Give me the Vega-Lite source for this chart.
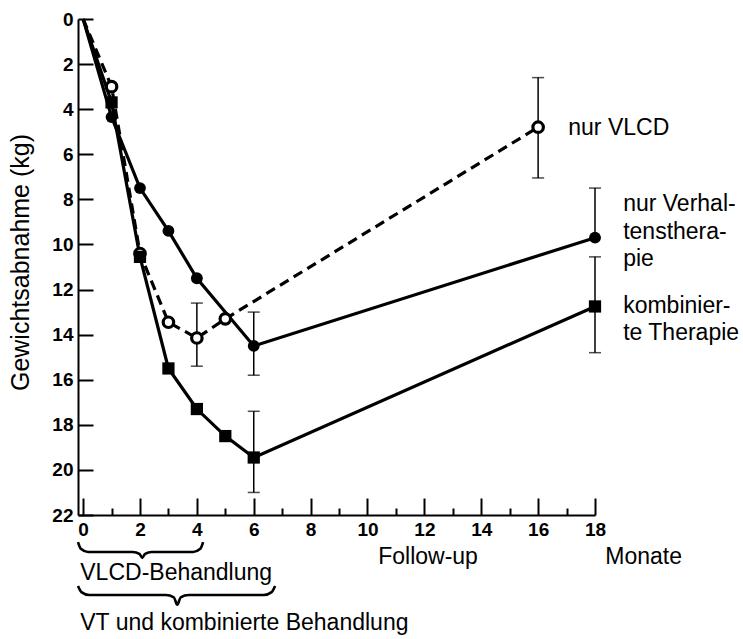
{
  "$schema": "https://vega.github.io/schema/vega-lite/v6.json",
  "width": 517,
  "height": 496,
  "autosize": {"type": "none"},
  "padding": {"left": 78, "top": 19, "right": 148, "bottom": 124},
  "background": "white",
  "config": {
    "view": {"stroke": null},
    "axis": {
      "grid": false,
      "domainColor": "black",
      "domainWidth": 2,
      "tickColor": "black",
      "tickWidth": 2,
      "labelColor": "black",
      "labelFont": "Liberation Sans",
      "labelFontWeight": "bold",
      "labelFontSize": 19,
      "titleColor": "black",
      "titleFont": "Liberation Sans",
      "titleFontWeight": "normal",
      "titleFontSize": 25
    },
    "text": {"font": "Liberation Sans", "fontSize": 23, "color": "black"}
  },
  "datasets": {
    "pts": [
      {"s": "VLCD", "m": 0, "kg": 0},
      {"s": "VLCD", "m": 1, "kg": 3.0},
      {"s": "VLCD", "m": 2, "kg": 10.4},
      {"s": "VLCD", "m": 3, "kg": 13.45},
      {"s": "VLCD", "m": 4, "kg": 14.15},
      {"s": "VLCD", "m": 5, "kg": 13.3},
      {"s": "VLCD", "m": 16, "kg": 4.8},
      {"s": "VT", "m": 0, "kg": 0},
      {"s": "VT", "m": 1, "kg": 4.35},
      {"s": "VT", "m": 2, "kg": 7.5},
      {"s": "VT", "m": 3, "kg": 9.4},
      {"s": "VT", "m": 4, "kg": 11.5},
      {"s": "VT", "m": 6, "kg": 14.5},
      {"s": "VT", "m": 18, "kg": 9.7},
      {"s": "Komb", "m": 0, "kg": 0},
      {"s": "Komb", "m": 1, "kg": 3.7},
      {"s": "Komb", "m": 2, "kg": 10.55},
      {"s": "Komb", "m": 3, "kg": 15.5},
      {"s": "Komb", "m": 4, "kg": 17.3},
      {"s": "Komb", "m": 5, "kg": 18.5},
      {"s": "Komb", "m": 6, "kg": 19.45},
      {"s": "Komb", "m": 18, "kg": 12.75}
    ],
    "err": [
      {"s": "VLCD", "m": 4, "lo": 12.6, "hi": 15.4},
      {"s": "VLCD", "m": 16, "lo": 2.6, "hi": 7.05},
      {"s": "VT", "m": 6, "lo": 13.0, "hi": 15.8},
      {"s": "VT", "m": 18, "lo": 7.5, "hi": 9.7},
      {"s": "Komb", "m": 6, "lo": 17.4, "hi": 21.0},
      {"s": "Komb", "m": 18, "lo": 10.55, "hi": 14.8}
    ],
    "labels": [
      {"t": "nur VLCD", "m": 17.06, "kg": 4.83, "a": "left"},
      {"t": "nur Verhal-", "m": 18.99, "kg": 8.21, "a": "left"},
      {"t": "tensthera-", "m": 18.99, "kg": 9.45, "a": "left"},
      {"t": "pie", "m": 18.99, "kg": 10.65, "a": "left"},
      {"t": "kombinier-", "m": 18.99, "kg": 12.73, "a": "left"},
      {"t": "te Therapie", "m": 18.99, "kg": 13.93, "a": "left"},
      {"t": "Follow-up", "m": 12.13, "kg": 23.86, "a": "center"},
      {"t": "Monate", "m": 18.36, "kg": 23.86, "a": "left"},
      {"t": "VLCD-Behandlung", "m": -0.1, "kg": 24.57, "a": "left"},
      {"t": "VT und kombinierte Behandlung", "m": -0.1, "kg": 26.79, "a": "left"}
    ],
    "braces": [
      {"b": 1, "m": -0.18, "kg": 23.2},
      {"b": 1, "m": -0.08, "kg": 23.5},
      {"b": 1, "m": 0.17, "kg": 23.64},
      {"b": 1, "m": 1.75, "kg": 23.64},
      {"b": 1, "m": 1.98, "kg": 23.72},
      {"b": 1, "m": 2.08, "kg": 23.9},
      {"b": 1, "m": 2.18, "kg": 23.72},
      {"b": 1, "m": 2.41, "kg": 23.64},
      {"b": 1, "m": 3.87, "kg": 23.64},
      {"b": 1, "m": 4.12, "kg": 23.5},
      {"b": 1, "m": 4.22, "kg": 23.2},
      {"b": 2, "m": -0.18, "kg": 25.15},
      {"b": 2, "m": -0.06, "kg": 25.42},
      {"b": 2, "m": 0.22, "kg": 25.55},
      {"b": 2, "m": 2.91, "kg": 25.55},
      {"b": 2, "m": 3.19, "kg": 25.65},
      {"b": 2, "m": 3.31, "kg": 25.98},
      {"b": 2, "m": 3.43, "kg": 25.65},
      {"b": 2, "m": 3.71, "kg": 25.55},
      {"b": 2, "m": 6.35, "kg": 25.55},
      {"b": 2, "m": 6.63, "kg": 25.42},
      {"b": 2, "m": 6.75, "kg": 25.15}
    ]
  },
  "encoding": {
    "x": {
      "field": "m",
      "type": "quantitative",
      "scale": {"domain": [-0.18, 18], "nice": false, "zero": false},
      "axis": {
        "title": null,
        "values": [0, 1, 2, 3, 4, 5, 6, 7, 8, 9, 10, 11, 12, 13, 14, 15, 16, 17, 18],
        "labelExpr": "datum.value % 2 == 0 ? datum.label : ''",
        "tickSize": {"condition": {"test": "datum.value % 2 == 1", "value": -7}, "value": -17},
        "labelPadding": 22,
        "labelFlush": false,
        "labelOverlap": false
      }
    },
    "y": {
      "field": "kg",
      "type": "quantitative",
      "scale": {"domain": [0, 22], "reverse": true, "nice": false},
      "axis": {
        "title": "Gewichtsabnahme (kg)",
        "values": [0, 2, 4, 6, 8, 10, 12, 14, 16, 18, 20, 22],
        "tickSize": -15,
        "labelPadding": 20,
        "labelFlush": false,
        "labelOverlap": false,
        "titleX": -58,
        "titleY": 243,
        "titleAngle": -90,
        "titleAlign": "center",
        "titleBaseline": "middle"
      }
    }
  },
  "layer": [
    {
      "data": {"name": "err"},
      "mark": {"type": "errorbar", "ticks": {"size": 12, "thickness": 1.5, "color": "black"}, "thickness": 1.5, "color": "black"},
      "encoding": {
        "x": {"field": "m", "type": "quantitative"},
        "y": {"field": "lo", "type": "quantitative"},
        "y2": {"field": "hi"}
      }
    },
    {
      "data": {"name": "pts"},
      "transform": [{"filter": "datum.s != 'VLCD'"}],
      "mark": {"type": "line", "color": "black", "strokeWidth": 3.2},
      "encoding": {"detail": {"field": "s"}}
    },
    {
      "data": {"name": "pts"},
      "transform": [{"filter": "datum.s == 'VLCD'"}],
      "mark": {"type": "line", "color": "black", "strokeWidth": 3.2, "strokeDash": [10, 6]},
      "encoding": {}
    },
    {
      "data": {"name": "pts"},
      "transform": [{"filter": "datum.s == 'VLCD' && datum.m > 0"}],
      "mark": {"type": "point", "shape": "circle", "size": 110, "fill": "white", "stroke": "black", "strokeWidth": 3.2, "opacity": 1, "filled": false},
      "encoding": {}
    },
    {
      "data": {"name": "pts"},
      "transform": [{"filter": "datum.s == 'VT' && datum.m > 0"}],
      "mark": {"type": "point", "shape": "circle", "size": 140, "fill": "black", "stroke": null, "opacity": 1, "filled": true},
      "encoding": {}
    },
    {
      "data": {"name": "pts"},
      "transform": [{"filter": "datum.s == 'Komb' && datum.m > 0"}],
      "mark": {"type": "point", "shape": "square", "size": 150, "fill": "black", "stroke": null, "opacity": 1, "filled": true},
      "encoding": {}
    },
    {
      "data": {"name": "braces"},
      "mark": {"type": "line", "color": "black", "strokeWidth": 2.6, "interpolate": "monotone", "clip": false},
      "encoding": {"detail": {"field": "b"}}
    },
    {
      "data": {"name": "labels"},
      "transform": [{"filter": "datum.a == 'left'"}],
      "mark": {"type": "text", "align": "left", "baseline": "middle", "clip": false},
      "encoding": {"text": {"field": "t"}}
    },
    {
      "data": {"name": "labels"},
      "transform": [{"filter": "datum.a == 'center'"}],
      "mark": {"type": "text", "align": "center", "baseline": "middle", "clip": false},
      "encoding": {"text": {"field": "t"}}
    }
  ]
}
